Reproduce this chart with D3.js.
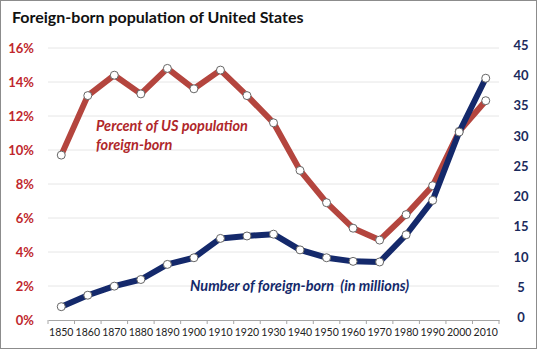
<!DOCTYPE html>
<html>
<head>
<meta charset="utf-8">
<script src="https://cdn.jsdelivr.net/npm/d3@7"></script>
<style>
  body { margin: 0; background: #fff; }
  svg { display: block; font-family: Lato, "Open Sans", sans-serif; }
</style>
</head>
<body>
<div id="chart"></div>
<script>
const years = [1850, 1860, 1870, 1880, 1890, 1900, 1910, 1920, 1930, 1940, 1950, 1960, 1970, 1980, 1990, 2000, 2010];
const percentForeign = [9.7, 13.2, 14.4, 13.3, 14.8, 13.6, 14.7, 13.2, 11.6, 8.8, 6.9, 5.4, 4.7, 6.2, 7.9, 11.1, 12.9];
const millionsForeign = [2.2, 4.1, 5.6, 6.7, 9.2, 10.3, 13.5, 13.9, 14.2, 11.6, 10.3, 9.7, 9.6, 14.1, 19.8, 31.1, 40.0];
const leftTicks = [0, 2, 4, 6, 8, 10, 12, 14, 16];
const rightTicks = [0, 5, 10, 15, 20, 25, 30, 35, 40, 45];

const W = 537, H = 349;
const margin = { top: 48, right: 38, bottom: 29, left: 48 };
const width = W - margin.left - margin.right;
const height = H - margin.top - margin.bottom;

const red = "#b4453e", navy = "#14296b";

const svg = d3.select("#chart").append("svg")
  .attr("width", W).attr("height", H);

// frame
svg.append("rect")
  .attr("x", 0.5).attr("y", 0.5).attr("width", W - 1).attr("height", H - 1)
  .attr("fill", "#fff").attr("stroke", "#8c8c8c");

svg.append("text")
  .attr("x", 12).attr("y", 23)
  .attr("font-size", 16).attr("font-weight", "bold").attr("fill", "#111")
  .text("Foreign-born population of United States");

const g = svg.append("g").attr("transform", `translate(${margin.left},${margin.top})`);

const xBand = d3.scaleBand().domain(years).range([0, width]);
const x = d => xBand(d) + xBand.bandwidth() / 2;
const yL = d3.scaleLinear().domain([0, 16]).range([height, 0]);
const yR = d3.scaleLinear().domain([0, 45]).range([height, 0]);

// gridlines
g.append("g").selectAll("line")
  .data(leftTicks.slice(1))
  .join("line")
  .attr("x1", 0).attr("x2", width)
  .attr("y1", d => yL(d)).attr("y2", d => yL(d))
  .attr("stroke", "#e6e6e6");

// left axis labels
g.append("g").selectAll("text")
  .data(leftTicks)
  .join("text")
  .attr("x", -14).attr("y", d => yL(d) + 5)
  .attr("text-anchor", "end")
  .attr("font-size", 13).attr("font-weight", "bold").attr("fill", "#c0272d")
  .text(d => d + "%");

// right axis labels
g.append("g").selectAll("text")
  .data(rightTicks)
  .join("text")
  .attr("x", width + 22).attr("y", d => yR(d) + 2)
  .attr("text-anchor", "middle")
  .attr("font-size", 13).attr("font-weight", "bold").attr("fill", "#1b2a5c")
  .text(d => d);

// x axis
const xAxis = g.append("g").attr("transform", `translate(0,${height})`)
  .call(d3.axisBottom(xBand).tickSize(0).tickPadding(9));
xAxis.select(".domain").attr("stroke", "#a6a6a6");
xAxis.selectAll("text").attr("font-size", 10.5).attr("fill", "#222").attr("font-family", "Lato, sans-serif");
xAxis.selectAll(".sep")
  .data(d3.range(years.length + 1))
  .join("line")
  .attr("class", "sep")
  .attr("x1", i => i * xBand.step()).attr("x2", i => i * xBand.step())
  .attr("y1", 0).attr("y2", 4)
  .attr("stroke", "#a6a6a6");

function drawSeries(values, y, color) {
  const line = d3.line().x((d, i) => x(years[i])).y(d => y(d));
  g.append("path")
    .datum(values)
    .attr("d", line)
    .attr("fill", "none")
    .attr("stroke", color)
    .attr("stroke-width", 6)
    .attr("stroke-linejoin", "round");
  g.append("g").selectAll("circle")
    .data(values)
    .join("circle")
    .attr("cx", (d, i) => x(years[i]))
    .attr("cy", d => y(d))
    .attr("r", 4)
    .attr("fill", "#fff")
    .attr("stroke", "#666")
    .attr("stroke-width", 1);
}

drawSeries(percentForeign, yL, red);
drawSeries(millionsForeign, yR, navy);

// annotations
svg.append("text")
  .attr("x", 96).attr("y", 131)
  .attr("font-size", 14.5).attr("font-weight", "bold").attr("font-style", "italic").attr("fill", "#b0272a")
  .text("Percent of US population");
svg.append("text")
  .attr("x", 96).attr("y", 150)
  .attr("font-size", 14.5).attr("font-weight", "bold").attr("font-style", "italic").attr("fill", "#b0272a")
  .text("foreign-born");
svg.append("text")
  .attr("x", 190).attr("y", 291)
  .attr("font-size", 14.5).attr("font-weight", "bold").attr("font-style", "italic").attr("fill", "#14296b")
  .attr("xml:space", "preserve")
  .text("Number of foreign-born  (in millions)");
</script>
</body>
</html>
